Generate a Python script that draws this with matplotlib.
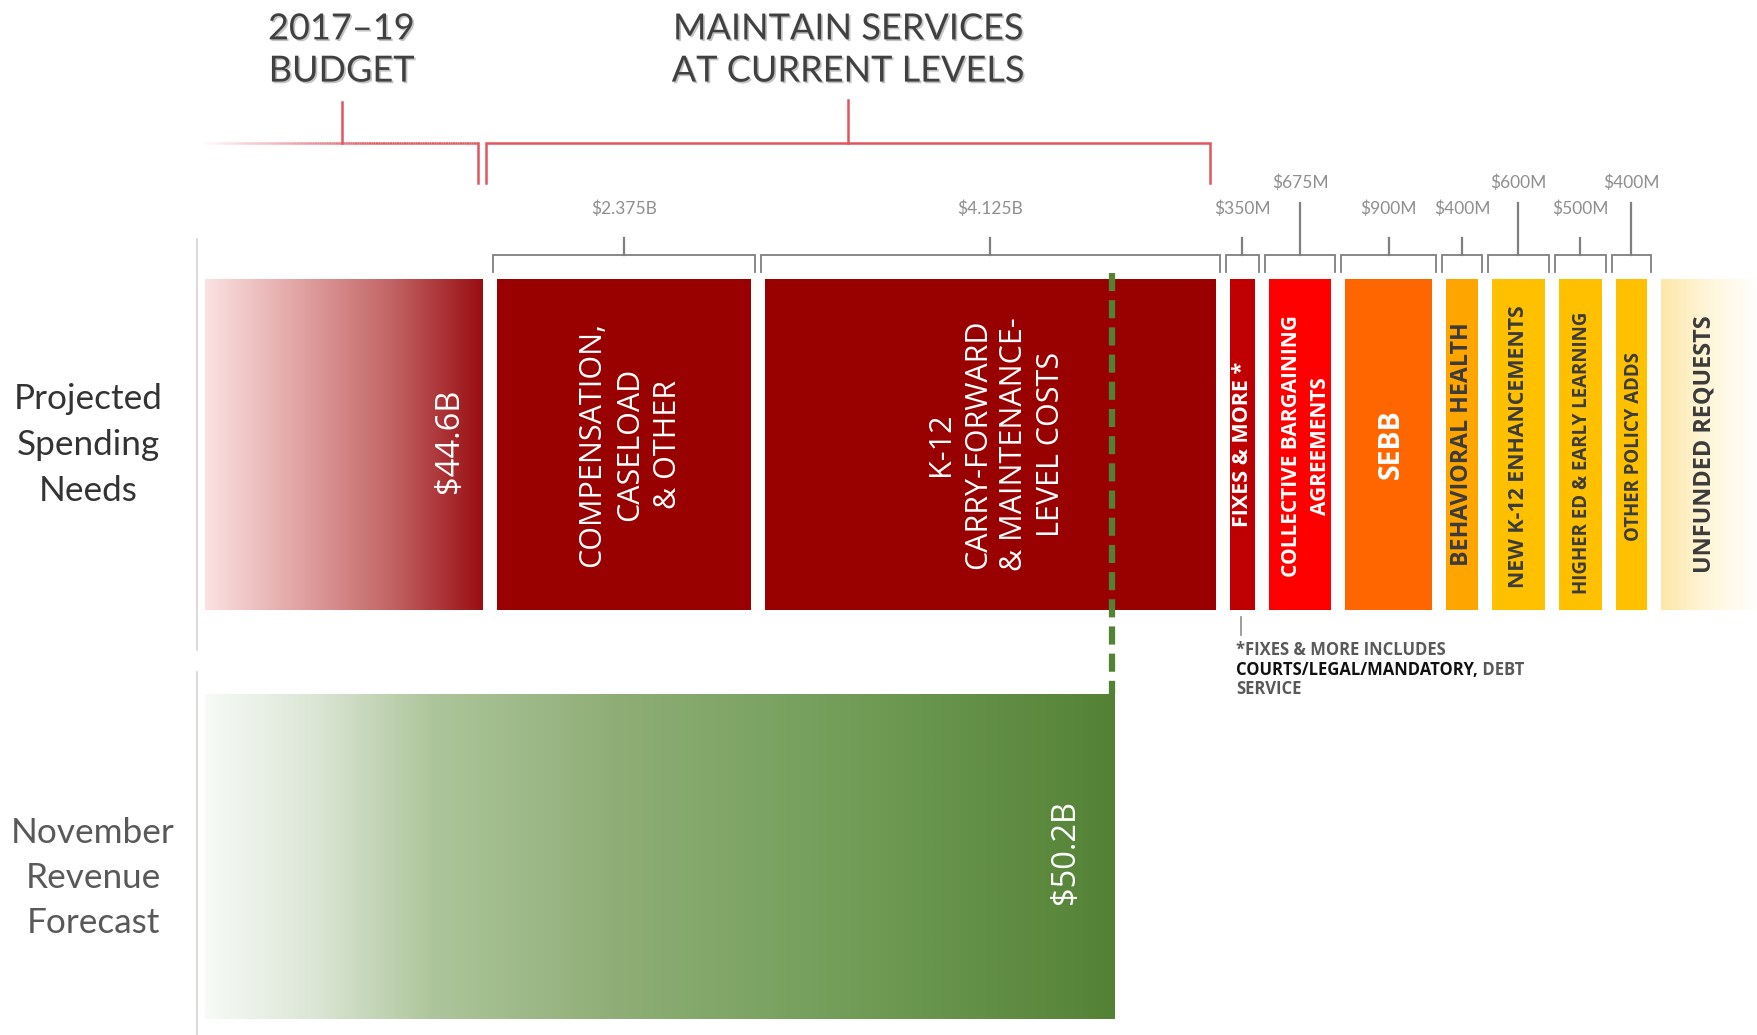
import numpy as np
import matplotlib
matplotlib.use("Agg")
import matplotlib.pyplot as plt
from matplotlib.colors import LinearSegmentedColormap
from matplotlib.collections import LineCollection
import matplotlib.patheffects as pe

# ---------------- data ----------------
budget_total = 44.6          # $B, 2017-19 budget
revenue_forecast = 50.2      # $B, November revenue forecast
budget_label = "$44.6B"
revenue_label = "$50.2B"

item_labels = [
    "COMPENSATION,\nCASELOAD\n& OTHER",
    "K-12\nCARRY-FORWARD\n& MAINTENANCE-\nLEVEL COSTS",
    "FIXES & MORE *",
    "COLLECTIVE BARGAINING\nAGREEMENTS",
    "SEBB",
    "BEHAVIORAL HEALTH",
    "NEW K-12 ENHANCEMENTS",
    "HIGHER ED & EARLY LEARNING",
    "OTHER POLICY ADDS",
]
item_amounts = [2.375, 4.125, 0.35, 0.675, 0.9, 0.4, 0.6, 0.5, 0.4]   # $B
amount_labels = ["$2.375B", "$4.125B", "$350M", "$675M", "$900M",
                 "$400M", "$600M", "$500M", "$400M"]
unfunded_label = "UNFUNDED REQUESTS"
row_labels = ["Projected\nSpending\nNeeds", "November\nRevenue\nForecast"]
group_titles = ["2017\u201319\nBUDGET", "MAINTAIN SERVICES\nAT CURRENT LEVELS"]
footnote_lines = ["*FIXES & MORE INCLUDES", "COURTS/LEGAL/MANDATORY,", " DEBT", "SERVICE"]

# ---------------- styles ----------------
item_colors = ["#990000", "#990000", "#c00000", "#ff0000", "#ff6600",
               "#ffa500", "#ffc000", "#ffc000", "#ffc000"]
item_text_colors = ["white"] * 5 + ["#3b3b3b"] * 4
item_font_sizes = [22, 22, 15.5, 15, 20.5, 16.7, 15.4, 13.5, 13.4]
item_weights = ["normal", "normal", "bold", "bold", "bold", "bold", "bold", "bold", "bold"]
item_linespacing = [1.35, 1.29, 1.0, 1.45, 1.0, 1.0, 1.0, 1.0, 1.0]
item_text_dx = [6, 6, 0, 6, 2, 0, 0, 2, 3]       # px
item_text_dy = [0, 0, 0, 2, 0, 0, 2, 8, 2]       # px
item_tall_tick = [False, False, False, True, False, False, True, False, True]

W, H = 1758, 1035
PX_PER_B = 112.7      # horizontal scale, pixels per $1B
ANCHOR_PX = 483       # pixel position of the end of the budget bar
GAP_PX = 14
BAR_TOP, BAR_BOT = 279, 610
GREEN_TOP, GREEN_BOT = 694, 1019
AXIS_START_PX = 205

def px2x(px):
    return budget_total + (px - ANCHOR_PX) / PX_PER_B

gap = GAP_PX / PX_PER_B
axis_start = px2x(AXIS_START_PX)

fig = plt.figure(figsize=(W / 100, H / 100), dpi=100)
ax = fig.add_axes([0, 0, 1, 1])
ax.axis("off")
xmin, xmax = px2x(0), px2x(W)

BAR_FONT = "Open Sans"
TXT_FONT = "Lato"


def gradient_bar(left, right, top, bot, stops):
    cmap = LinearSegmentedColormap.from_list("g", stops)
    yc = (top + bot) / 2
    bar = ax.barh(yc, right - left, left=left, height=bot - top,
                  color="none", lw=0, zorder=1)[0]
    img = ax.imshow(np.linspace(0, 1, 512)[None, :], cmap=cmap,
                    extent=[left, right, bot, top], aspect="auto",
                    interpolation="bilinear", zorder=1)
    img.set_clip_path(bar)
    return bar


# budget bar (gradient)
gradient_bar(axis_start, budget_total, BAR_TOP, BAR_BOT,
             ["#fbe2e2", "#e2a4a4", "#c36566", "#990e12"])
ax.text(px2x(449), (BAR_TOP + BAR_BOT) / 2 - 4, budget_label, rotation=90,
        color="white", fontsize=23.5, family=BAR_FONT, ha="center", va="center")

# revenue bar (gradient)
gradient_bar(axis_start, revenue_forecast, GREEN_TOP, GREEN_BOT,
             [(0.0, "#f7faf7"), (0.12, "#dbe6d5"), (0.25, "#adc59b"),
              (0.45, "#8fae77"), (0.7, "#729e59"), (1.0, "#548235")])
ax.text(px2x(1065), 852, revenue_label, rotation=90, color="white",
        fontsize=23.5, family=BAR_FONT, ha="center", va="center")

# stacked items
edges = budget_total + np.concatenate([[0], np.cumsum(item_amounts)])
yc = (BAR_TOP + BAR_BOT) / 2
for i, (lab, amt) in enumerate(zip(item_labels, item_amounts)):
    left, right = edges[i] + gap, edges[i + 1]
    ax.barh(yc, right - left, left=left, height=BAR_BOT - BAR_TOP,
            color=item_colors[i], lw=0, zorder=1)
    ax.text((left + right) / 2 + item_text_dx[i] / PX_PER_B, yc + item_text_dy[i],
            lab, rotation=90,
            color=item_text_colors[i], fontsize=item_font_sizes[i],
            fontweight=item_weights[i], family=BAR_FONT, ha="center",
            va="center", multialignment="center",
            linespacing=item_linespacing[i], zorder=3)
    # gray bracket
    bl, br = left - 4 / PX_PER_B, right + 4 / PX_PER_B
    mid = (bl + br) / 2
    ax.plot([bl, bl, br, br], [272, 255, 255, 272], color="#7f7f7f",
            lw=1.3, solid_joinstyle="miter", zorder=2)
    tick_top = 203 if item_tall_tick[i] else 238
    ax.plot([mid, mid], [255, tick_top], color="#7f7f7f", lw=1.6, zorder=2)
    ax.text(mid, tick_top - (20 if item_tall_tick[i] else 29), amount_labels[i],
            ha="center", va="center", color="#8f8f8f", fontsize=12.5,
            family=TXT_FONT)

# unfunded requests (fading bar)
u_left = edges[-1] + gap
gradient_bar(u_left, xmax, BAR_TOP, BAR_BOT, ["#fde7a9", "#fff6dc", "#ffffff"])
ax.text(px2x(1704), yc, unfunded_label, rotation=90, color="#3b3b3b",
        fontsize=16.8, fontweight="bold", family=BAR_FONT, ha="center",
        va="center", zorder=3)

# revenue marker (dashed)
ax.plot([revenue_forecast - 2 / PX_PER_B] * 2, [273, GREEN_TOP], color="#548235",
        lw=4.5, dashes=(2.9, 1.45), zorder=4, solid_capstyle="butt")

# red group brackets
RED = "#e05560"
b_right = budget_total - 5 / PX_PER_B
xs = np.linspace(axis_start - 5 / PX_PER_B, b_right, 120)
segs = [[(xs[k], 143), (xs[k + 1], 143)] for k in range(len(xs) - 1)]
alphas = np.clip(np.linspace(0, 1.6, len(segs)), 0, 1)
cols = [matplotlib.colors.to_rgba(RED, a) for a in alphas]
ax.add_collection(LineCollection(segs, colors=cols, lw=1.8, zorder=2))
ax.plot([b_right, b_right], [143, 183], color=RED, lw=1.8)
b_mid = (axis_start + b_right) / 2
ax.plot([b_mid, b_mid], [143, 102], color=RED, lw=1.8)

m_left, m_right = edges[0] + 3 / PX_PER_B, edges[2] - 6 / PX_PER_B
ax.plot([m_left, m_left, m_right, m_right], [183, 143, 143, 183], color=RED,
        lw=1.8, solid_joinstyle="miter")
m_mid = (m_left + m_right) / 2
ax.plot([m_mid, m_mid], [143, 100], color=RED, lw=1.8)

shadow = [pe.SimplePatchShadow(offset=(1.2, -1.2), alpha=0.25), pe.Normal()]
ax.text(b_mid, 50, group_titles[0], ha="center", va="center", fontsize=26,
        color="#404040", family=TXT_FONT, linespacing=1.34, path_effects=shadow)
ax.text(m_mid, 50, group_titles[1], ha="center", va="center", fontsize=26,
        color="#404040", family=TXT_FONT, linespacing=1.34, path_effects=shadow)

# left axis line and row labels
lx = px2x(197)
ax.plot([lx, lx], [239, 650], color="#d3d3d3", lw=1.2)
ax.plot([lx, lx], [672, H], color="#d3d3d3", lw=1.2)
ax.text(px2x(88), 445, row_labels[0], ha="center", va="center", fontsize=25.3,
        color="#333333", family=TXT_FONT, linespacing=1.53)
ax.text(px2x(93), 878, row_labels[1], ha="center", va="center", fontsize=25.3,
        color="#595959", family=TXT_FONT, linespacing=1.5)

# footnote
fx = px2x(1236)
FN = 12
ax.plot([px2x(1241)] * 2, [617, 635], color="#8c8c8c", lw=1.2)
ax.text(fx, 650, footnote_lines[0], fontsize=FN, fontweight="bold",
        color="#595959", family=BAR_FONT, va="center", ha="left")
t2 = ax.text(fx, 670, footnote_lines[1], fontsize=FN, fontweight="bold",
             color="#111111", family=BAR_FONT, va="center", ha="left")
ax.annotate(footnote_lines[2], xy=(1, 0.5), xycoords=t2, fontsize=FN,
            fontweight="bold", color="#595959", family=BAR_FONT,
            va="center", ha="left")
ax.text(fx, 689, footnote_lines[3], fontsize=FN, fontweight="bold",
        color="#595959", family=BAR_FONT, va="center", ha="left")

ax.set_xlim(xmin, xmax)
ax.set_ylim(H, 0)
fig.savefig("out.png", dpi=100, facecolor="white")
